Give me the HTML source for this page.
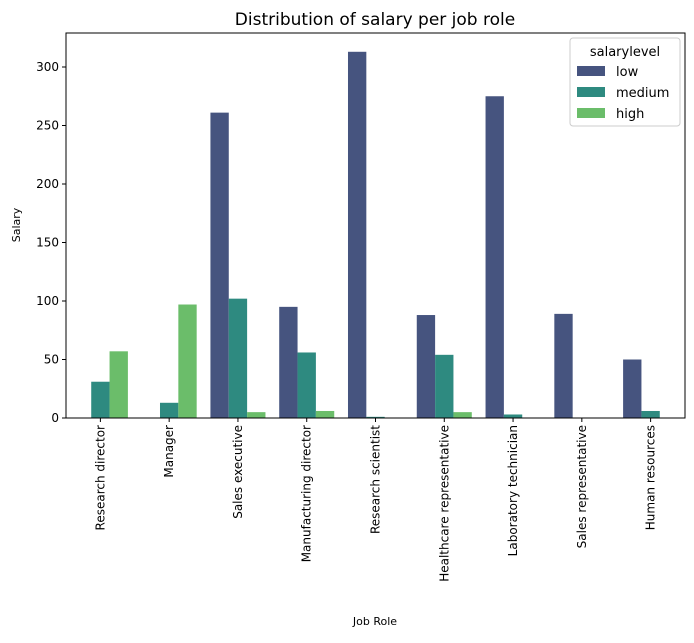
<!DOCTYPE html>
<html><head><meta charset="utf-8"><style>
body{margin:0;background:#fff;font-family:"Liberation Sans","DejaVu Sans",sans-serif}
</style></head><body>
<svg width="694" height="638" viewBox="0 0 694 638" xmlns="http://www.w3.org/2000/svg" font-family="DejaVu Sans, Liberation Sans, sans-serif">
<rect width="694" height="638" fill="#fff"/>
<text x="375" y="25" text-anchor="middle" font-size="17" fill="#000">Distribution of salary per job role</text>
<g id="bars"></g>
<g id="yticks"></g>
<g id="xticks"></g>
<rect x="66" y="33" width="619" height="385" fill="none" stroke="#000" stroke-width="1"/>
<text x="20" y="225" text-anchor="middle" font-size="11" transform="rotate(-90 20 225)">Salary</text>
<text x="375" y="625" text-anchor="middle" font-size="11">Job Role</text>
<g>
<rect x="570" y="38" width="110" height="88" rx="3" fill="#fff" stroke="#ccc"/>
<text x="625" y="56" text-anchor="middle" font-size="13">salarylevel</text>
<g id="legend-entries"></g>
</g>
</svg>
<script>
const categories=["Research director","Manager","Sales executive","Manufacturing director","Research scientist","Healthcare representative","Laboratory technician","Sales representative","Human resources"];
const seriesNames=["low","medium","high"];
const lowValues=[0,0,261,95,313,88,275,89,50];
const mediumValues=[31,13,102,56,1,54,3,0,6];
const highValues=[57,97,5,6,0,5,0,0,0];
const yTicks=[0,50,100,150,200,250,300];
const colors=["#46547f","#2e8a80","#6bbd6a"];
const NS="http://www.w3.org/2000/svg";
const X0=66,X1=685,Y0=418,PX=351/300;
const band=(X1-X0)/categories.length;
const y=v=>Y0-v*PX;
const series=[lowValues,mediumValues,highValues];
const bars=document.getElementById('bars');
const bw=band*0.8/3;
series.forEach((vals,s)=>{vals.forEach((v,i)=>{
 if(v<=0)return;
 const r=document.createElementNS(NS,'rect');
 r.setAttribute('x',X0+band*i+band*0.1+bw*s);
 r.setAttribute('y',y(v));
 r.setAttribute('width',bw);
 r.setAttribute('height',v*PX);
 r.setAttribute('fill',colors[s]);
 
 
 bars.appendChild(r);
});});
const yt=document.getElementById('yticks');
yTicks.forEach(t=>{
 const l=document.createElementNS(NS,'line');
 l.setAttribute('x1',X0-4);l.setAttribute('x2',X0);l.setAttribute('y1',y(t));l.setAttribute('y2',y(t));l.setAttribute('stroke','#000');
 
 
 yt.appendChild(l);
 const tx=document.createElementNS(NS,'text');
 tx.setAttribute('x',X0-7);tx.setAttribute('y',y(t)+4);tx.setAttribute('text-anchor','end');tx.setAttribute('font-size','12');
 tx.textContent=t;
 
 
 yt.appendChild(tx);
});
const xt=document.getElementById('xticks');
categories.forEach((c,i)=>{
 const cx=X0+band*(i+0.5);
 const l=document.createElementNS(NS,'line');
 l.setAttribute('x1',cx);l.setAttribute('x2',cx);l.setAttribute('y1',Y0);l.setAttribute('y2',Y0+4);l.setAttribute('stroke','#000');
 
 
 xt.appendChild(l);
 const tx=document.createElementNS(NS,'text');
 tx.setAttribute('x',cx+4);tx.setAttribute('y',Y0+7);tx.setAttribute('text-anchor','end');tx.setAttribute('font-size','12');
 tx.setAttribute('transform','rotate(-90 '+(cx+4)+' '+(Y0+7)+')');
 tx.textContent=c;
 
 
 xt.appendChild(tx);
});
const lg=document.getElementById('legend-entries');
seriesNames.forEach((n,s)=>{
 const yy=66+s*21;
 const r=document.createElementNS(NS,'rect');
 r.setAttribute('x',577);r.setAttribute('y',yy);r.setAttribute('width',28);r.setAttribute('height',10);r.setAttribute('fill',colors[s]);
 
 
 lg.appendChild(r);
 const t=document.createElementNS(NS,'text');
 t.setAttribute('x',616);t.setAttribute('y',yy+10);t.setAttribute('font-size','13');t.textContent=n;
 
 
 lg.appendChild(t);
});
</script>
</body></html>
